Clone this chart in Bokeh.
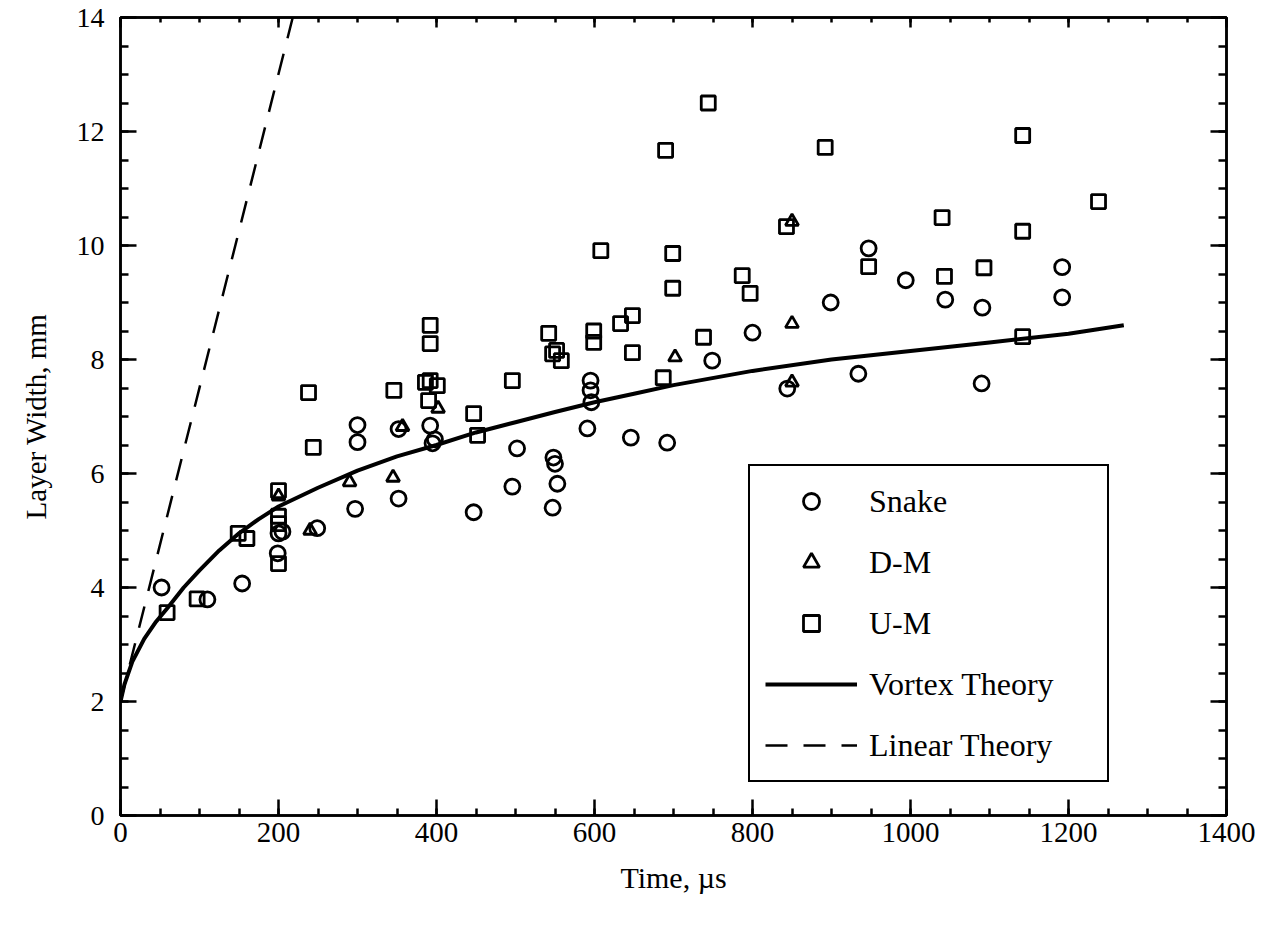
from bokeh.plotting import figure
from bokeh.models import Range1d, LinearAxis, SingleIntervalTicker, Legend, LegendItem
from bokeh.embed import file_html
from bokeh.resources import INLINE

# ---- data ----
snake_t = [52, 110, 154, 199, 200, 205, 249, 297, 300, 300, 352, 352, 392, 395, 398,
           447, 496, 502, 548, 550, 553, 547, 591, 595, 595, 596, 646, 692, 749, 800,
           844, 899, 934, 947, 994, 1044, 1091, 1090, 1192, 1192]
snake_w = [4.0, 3.79, 4.07, 4.6, 4.95, 4.98, 5.04, 5.38, 6.55, 6.85, 6.78, 5.56, 6.84, 6.53, 6.6,
           5.32, 5.77, 6.44, 6.28, 6.17, 5.82, 5.4, 6.79, 7.63, 7.46, 7.25, 6.63, 6.54, 7.98, 8.47,
           7.49, 9.0, 7.75, 9.95, 9.39, 9.05, 8.91, 7.58, 9.62, 9.09]

dm_t = [200, 240, 290, 345, 357, 402, 702, 850, 850, 850]
dm_w = [5.6, 5.0, 5.85, 5.93, 6.82, 7.14, 8.04, 8.63, 7.6, 10.42]

um_t = [59, 97, 149, 160, 200, 200, 200, 200, 238, 244, 346, 392, 392, 392, 401, 386, 390,
        447, 452, 496, 542, 552, 558, 547, 599, 599, 608, 633, 648, 648, 687, 690, 699, 699,
        738, 744, 787, 797, 843, 892, 947, 1040, 1043, 1093, 1142, 1142, 1142, 1238]
um_w = [3.56, 3.8, 4.95, 4.86, 4.42, 5.12, 5.25, 5.7, 7.42, 6.46, 7.46, 8.6, 8.28, 7.63, 7.54, 7.6, 7.28,
        7.05, 6.67, 7.63, 8.46, 8.16, 7.98, 8.1, 8.5, 8.3, 9.91, 8.63, 8.77, 8.12, 7.68, 11.67, 9.86, 9.25,
        8.39, 12.5, 9.47, 9.16, 10.33, 11.72, 9.63, 10.49, 9.46, 9.61, 11.93, 10.25, 8.4, 10.77]

vortex_t = [0, 5, 15, 30, 45, 60, 80, 100, 125, 150, 175, 200, 250, 300, 350, 400, 450, 500,
            550, 600, 650, 700, 800, 900, 1000, 1100, 1200, 1270]
vortex_w = [2.0, 2.3, 2.7, 3.1, 3.4, 3.65, 4.0, 4.3, 4.65, 4.95, 5.2, 5.42, 5.75, 6.05, 6.3, 6.5,
            6.72, 6.9, 7.08, 7.25, 7.4, 7.55, 7.8, 8.0, 8.15, 8.3, 8.45, 8.6]

linear_t = [0, 218]
linear_w = [2.0, 14.0]

x_axis_title = "Time, µs"
y_axis_title = "Layer Width, mm"

FONT = "Liberation Serif"

p = figure(width=1255, height=928,
           x_range=Range1d(0, 1400), y_range=Range1d(0, 14),
           output_backend="svg", toolbar_location=None,
           min_border_left=120, min_border_right=29, min_border_top=17, min_border_bottom=113)
p.background_fill_color = "white"
p.border_fill_color = "white"
p.outline_line_color = "black"
p.outline_line_width = 2.5
p.xgrid.visible = False
p.ygrid.visible = False

xt = SingleIntervalTicker(interval=200, num_minor_ticks=4)
yt = SingleIntervalTicker(interval=2, num_minor_ticks=4)

for ax in p.xaxis:
    ax.ticker = xt
    ax.axis_label = x_axis_title
for ax in p.yaxis:
    ax.ticker = yt
    ax.axis_label = y_axis_title

def style_axis(ax, show_labels, maj_in, min_in):
    ax.axis_line_width = 2.5
    ax.axis_line_color = "black"
    ax.major_tick_in = maj_in
    ax.major_tick_out = 0
    ax.minor_tick_in = min_in
    ax.minor_tick_out = 0
    ax.major_tick_line_width = 2.5
    ax.minor_tick_line_width = 2.5
    ax.major_tick_line_color = "black"
    ax.minor_tick_line_color = "black"
    ax.major_label_text_font = FONT
    ax.major_label_text_color = "black"
    ax.axis_label_text_font = FONT
    ax.axis_label_text_font_style = "normal"
    ax.axis_label_text_color = "black"
    if not show_labels:
        ax.major_label_text_color = None
        ax.major_label_text_font_size = "1px"
        ax.major_label_standoff = 0

style_axis(p.xaxis[0], True, 16, 7)
p.xaxis[0].major_label_text_font_size = "29px"
p.xaxis[0].major_label_standoff = 7
p.xaxis[0].axis_label_text_font_size = "30px"
p.xaxis[0].axis_label_standoff = 16

style_axis(p.yaxis[0], True, 16, 8)
p.yaxis[0].major_label_text_font_size = "28px"
p.yaxis[0].major_label_standoff = 16
p.yaxis[0].axis_label_text_font_size = "29px"
p.yaxis[0].axis_label_standoff = 22

top = LinearAxis(ticker=xt)
style_axis(top, False, 10, 5)
p.add_layout(top, "above")
right = LinearAxis(ticker=yt)
style_axis(right, False, 16, 8)
p.add_layout(right, "right")

# theory curves
r_lin = p.line(linear_t, linear_w, line_color="black", line_width=2.5, line_dash="22 16")
r_vor = p.line(vortex_t, vortex_w, line_color="black", line_width=4, line_join="round")

# data
r_snake = p.scatter(snake_t, snake_w, marker="circle", size=15, fill_alpha=0,
                    line_color="black", line_width=2.8)
r_dm = p.scatter(dm_t, dm_w, marker="triangle", size=13, fill_alpha=0,
                 line_color="black", line_width=2.8)
r_um = p.scatter(um_t, um_w, marker="square", size=14, fill_alpha=0,
                 line_color="black", line_width=2.8)

legend = Legend(items=[
    LegendItem(label="Snake", renderers=[r_snake]),
    LegendItem(label="D-M", renderers=[r_dm]),
    LegendItem(label="U-M", renderers=[r_um]),
    LegendItem(label="Vortex Theory", renderers=[r_vor]),
    LegendItem(label="Linear Theory", renderers=[r_lin]),
], location=(628, 33))
legend.label_text_font = FONT
legend.label_text_font_size = "32px"
legend.label_text_color = "black"
legend.border_line_color = "black"
legend.border_line_alpha = 1
legend.border_line_width = 2.5
legend.background_fill_color = "white"
legend.background_fill_alpha = 1
legend.padding = 15
legend.margin = 0
legend.spacing = 21
legend.glyph_width = 92
legend.glyph_height = 40
legend.label_height = 40
legend.label_width = 223
legend.label_standoff = 12
p.add_layout(legend, "center")

open("out.html", "w").write(file_html(p, INLINE))
